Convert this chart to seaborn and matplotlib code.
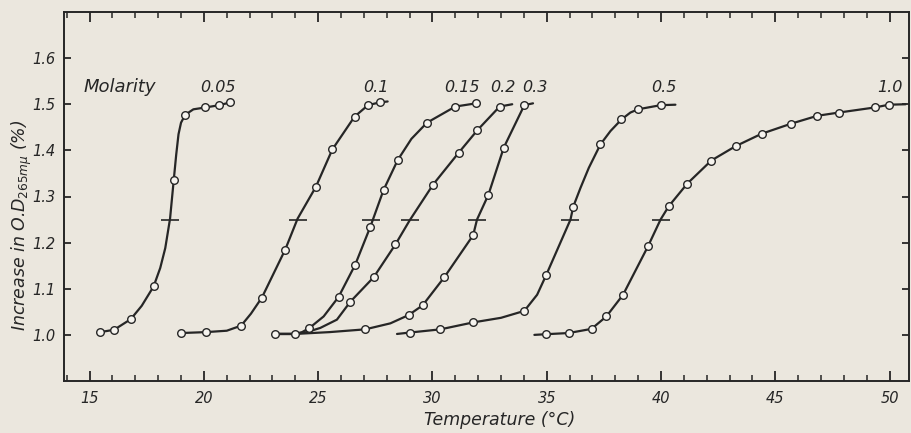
import matplotlib
matplotlib.use("Agg")
import matplotlib.pyplot as plt
import seaborn as sns
import numpy as np

# ---------------- data ----------------
# shared starting points of the 0.15, 0.2 and 0.3 M curves
common_T = [23.09, 23.98]
common_v = [1.002, 1.002]

m005_T = [15.46, 16.07, 16.80, 17.80, 18.68, 19.18, 20.06, 20.68, 21.15]
m005_v = [1.006, 1.011, 1.034, 1.105, 1.335, 1.477, 1.493, 1.498, 1.504]
t005_T = [17.28, 18.09, 18.31, 18.52, 18.79, 18.89, 19.00, 19.54, 21.30]
t005_v = [1.063, 1.145, 1.188, 1.252, 1.391, 1.435, 1.460, 1.489, 1.505]

m01_T = [19.01, 20.10, 21.63, 22.54, 23.56, 24.90, 25.62, 26.59, 27.18, 27.69]
m01_v = [1.004, 1.006, 1.020, 1.081, 1.185, 1.321, 1.402, 1.473, 1.498, 1.504]
t01_T = [21.00, 22.06, 24.10, 28.04]
t01_v = [1.009, 1.046, 1.252, 1.506]

m015_T = [24.62, 25.89, 26.62, 27.28, 27.86, 28.48, 29.76, 31.00, 31.91]
m015_v = [1.015, 1.082, 1.152, 1.234, 1.314, 1.379, 1.460, 1.495, 1.502]
t015_T = [24.30, 25.24, 29.08]
t015_v = [1.006, 1.040, 1.425]

m02_T = [26.41, 27.43, 28.38, 30.03, 31.15, 31.97, 32.94]
m02_v = [1.072, 1.125, 1.196, 1.326, 1.395, 1.444, 1.495]
t02_T = [24.50, 25.09, 25.82, 29.00, 33.49]
t02_v = [1.006, 1.015, 1.033, 1.248, 1.500]

m03_T = [27.06, 28.96, 29.57, 30.52, 31.78, 32.45, 33.12, 34.02]
m03_v = [1.012, 1.043, 1.064, 1.125, 1.216, 1.304, 1.406, 1.498]
t03_T = [25.50, 28.16, 31.95, 34.40]
t03_v = [1.006, 1.025, 1.250, 1.502]

m05_T = [29.00, 30.35, 31.78, 34.02, 34.97, 36.16, 37.35, 38.27, 38.99, 39.98]
m05_v = [1.005, 1.012, 1.027, 1.052, 1.129, 1.278, 1.413, 1.467, 1.489, 1.498]
t05_T = [28.45, 33.00, 34.58, 36.04, 36.48, 36.84, 37.79, 38.66, 40.63]
t05_v = [1.002, 1.037, 1.087, 1.250, 1.319, 1.362, 1.442, 1.482, 1.499]

m10_T = [34.99, 35.96, 36.96, 37.61, 38.34, 39.43, 40.34, 41.15, 42.20, 43.26,
         44.40, 45.70, 46.84, 47.78, 49.35, 49.97]
m10_v = [1.0015, 1.004, 1.013, 1.040, 1.087, 1.192, 1.279, 1.328, 1.378, 1.409,
         1.436, 1.458, 1.475, 1.482, 1.493, 1.499]
t10_T = [34.46, 39.98, 50.70]
t10_v = [1.000, 1.250, 1.500]

# temperatures of half-transition (marked with a bar at 1.25)
half_T = [18.52, 24.10, 27.31, 29.00, 31.95, 36.04, 39.98]
half_v = [1.25, 1.25, 1.25, 1.25, 1.25, 1.25, 1.25]

molarity_labels = ["0.05", "0.1", "0.15", "0.2", "0.3", "0.5", "1.0"]
label_T = [20.60, 27.54, 31.27, 33.10, 34.48, 40.13, 50.00]
label_v = [1.537, 1.537, 1.537, 1.537, 1.537, 1.537, 1.537]

x_ticks = [15, 20, 25, 30, 35, 40, 45, 50]
y_ticks = [1.0, 1.1, 1.2, 1.3, 1.4, 1.5, 1.6]
y_ticklabels = ["1.0", "1.1", "1.2", "1.3", "1.4", "1.5", "1.6"]

# ---------------- styling ----------------
paper = "#ebe7de"
ink = "#262626"

sns.set_theme(style="ticks")
plt.rcParams["font.family"] = ["DejaVu Sans"]
plt.rcParams["mathtext.fontset"] = "dejavusans"

fig = plt.figure(figsize=(9.11, 4.33), dpi=100, facecolor=paper)
ax = fig.add_axes([64 / 911, 1 - 381 / 433, (909 - 64) / 911, (381 - 12) / 433])
ax.set_facecolor(paper)

series = [
    (m005_T, m005_v, t005_T, t005_v, False),
    (m01_T, m01_v, t01_T, t01_v, False),
    (m015_T, m015_v, t015_T, t015_v, True),
    (m02_T, m02_v, t02_T, t02_v, True),
    (m03_T, m03_v, t03_T, t03_v, True),
    (m05_T, m05_v, t05_T, t05_v, False),
    (m10_T, m10_v, t10_T, t10_v, False),
]

for mT, mv, tT, tv, shared in series:
    T = list(mT) + list(tT) + (list(common_T) if shared else [])
    v = list(mv) + list(tv) + (list(common_v) if shared else [])
    order = np.argsort(T)
    Ts = [T[i] for i in order]
    vs = [v[i] for i in order]
    sns.lineplot(x=Ts, y=vs, ax=ax, color=ink, linewidth=1.6,
                 estimator=None, sort=False, zorder=2)

all_mT = sum([s[0] for s in series], []) + common_T
all_mv = sum([s[1] for s in series], []) + common_v
sns.scatterplot(x=all_mT, y=all_mv, ax=ax, marker="o", s=30,
                facecolor="#f6f4ef", edgecolor=ink, linewidth=1.0, zorder=3)

sns.scatterplot(x=half_T, y=half_v, ax=ax, marker="_", s=160,
                color=ink, linewidth=1.2, zorder=3)

for lab, x, y in zip(molarity_labels, label_T, label_v):
    ax.text(x, y, lab, ha="center", va="center", fontsize=11.5,
            fontstyle="italic", color=ink)
ax.text(14.75, 1.537, "Molarity", ha="left", va="center", fontsize=13,
        fontstyle="italic", color=ink)

ax.set_xlim(13.88, 50.85)
ax.set_ylim(0.9, 1.7)
ax.set_xticks(x_ticks)
ax.set_xticklabels([str(t) for t in x_ticks], fontstyle="italic", fontsize=10.5,
                   color=ink)
ax.set_xticks(np.arange(14, 51, 1), minor=True)
ax.set_yticks(y_ticks)
ax.set_yticklabels(y_ticklabels, fontstyle="italic", fontsize=10.5, color=ink)

ax.tick_params(axis="x", which="major", direction="in", top=True, bottom=True,
               length=7, width=1.3, color=ink, pad=7)
ax.tick_params(axis="x", which="minor", direction="in", top=True, bottom=True,
               length=4, width=1.1, color=ink)
ax.tick_params(axis="y", which="major", direction="in", left=True, right=True,
               length=5, width=1.3, color=ink, pad=6)

for sp in ax.spines.values():
    sp.set_visible(True)
    sp.set_linewidth(1.4)
    sp.set_color(ink)

ax.set_xlabel("")
ax.set_ylabel("")
fig.text(500 / 911, 1 - 420 / 433, "Temperature (°C)", ha="center", va="center",
         fontsize=12.5, fontstyle="italic", color=ink)
fig.text(22 / 911, 1 - 225 / 433, r"Increase in O.D$_{\mathit{265m\mu}}$ (%)",
         ha="center", va="center", rotation=90, fontsize=12.5,
         fontstyle="italic", color=ink)

fig.savefig("out.png", dpi=100, facecolor=paper)
